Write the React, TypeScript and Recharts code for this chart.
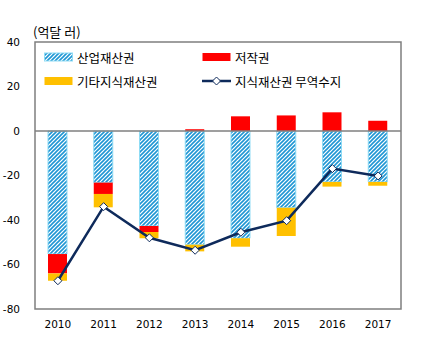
import { ComposedChart, Bar, Line, XAxis, YAxis, ReferenceLine, ReferenceArea } from 'recharts'

const years = ['2010', '2011', '2012', '2013', '2014', '2015', '2016', '2017']
const industrial = [-55.3, -23.2, -42.7, -51.1, -48.2, -34.5, -22.9, -22.9]
const copyright = [-8.7, -5.1, -2.7, 0.8, 6.6, 7.0, 8.4, 4.6]
const otherIp = [-3.3, -6.0, -2.8, -3.0, -3.8, -12.7, -2.1, -1.7]
const balance = [-67.3, -34.0, -48.0, -53.6, -45.5, -40.3, -16.9, -20.2]
const yTicks = [40, 20, 0, -20, -40, -60, -80]

const data = years.map((year, i) => ({
  year,
  industrial: industrial[i],
  copyright: copyright[i],
  otherIp: otherIp[i],
  balance: balance[i],
}))

const NAVY = '#0e2a5b'
const RED = '#ff0000'
const YELLOW = '#ffc000'
const HATCH = '#1f96d4'
const tickStyle = { fill: '#000', fontSize: 10.5, fontFamily: 'DejaVu Sans' }
const korean = '"Noto Sans CJK KR", sans-serif'

function Diamond(props: any) {
  const { cx, cy } = props
  if (cx == null || cy == null) return null
  return <path d={`M${cx},${cy - 4} L${cx + 4},${cy} L${cx},${cy + 4} L${cx - 4},${cy} Z`} fill="#fff" stroke={NAVY} strokeWidth={1} />
}

function Swatch({ kind }: { kind: string }) {
  if (kind === 'line') {
    return (
      <svg width={29} height={10}>
        <line x1={0} y1={5} x2={29} y2={5} stroke={NAVY} strokeWidth={2.5} />
        <path d="M14.5,1 L18.5,5 L14.5,9 L10.5,5 Z" fill="#fff" stroke={NAVY} strokeWidth={1} />
      </svg>
    )
  }
  return (
    <svg width={29} height={10}>
      <defs>
        <pattern id="hatchLegend" patternUnits="userSpaceOnUse" width={4} height={4}>
          <rect width={4} height={4} fill="#fff" />
          <path d="M-1,1 L1,-1 M0,4 L4,0 M3,5 L5,3" stroke={HATCH} strokeWidth={1.6} />
        </pattern>
      </defs>
      <rect x={0.5} y={1} width={28} height={8} fill={kind === 'hatch' ? 'url(#hatchLegend)' : kind} stroke={kind === 'hatch' ? '#8fdcf5' : 'none'} />
    </svg>
  )
}

const legendItems = [
  { label: '산업재산권', kind: 'hatch' },
  { label: '저작권', kind: RED },
  { label: '기타지식재산권', kind: YELLOW },
  { label: '지식재산권 무역수지', kind: 'line' },
]

function ChartLegend() {
  return (
    <div style={{ position: 'absolute', left: 44, top: 45, display: 'flex', flexWrap: 'wrap', width: 340, fontFamily: korean, fontSize: 12.5, color: '#000' }}>
      {legendItems.map((item) => (
        <div key={item.label} style={{ width: 158, height: 24, display: 'flex', alignItems: 'center', gap: 4 }}>
          <Swatch kind={item.kind} />
          <span>{item.label}</span>
        </div>
      ))}
    </div>
  )
}

export default function App() {
  return (
    <div style={{ position: 'absolute', left: 0, top: 0, width: 426, height: 351, background: '#fff' }}>
      <div style={{ position: 'absolute', left: 33, top: 22, fontFamily: korean, fontSize: 13, color: '#000' }}>(억달 러)</div>
      <ComposedChart
        width={426}
        height={351}
        data={data}
        stackOffset="sign"
        margin={{ top: 42, right: 25, left: 0, bottom: 12 }}
        barSize={19}
      >
        <defs>
          <pattern id="hatch" patternUnits="userSpaceOnUse" width={4} height={4}>
            <rect width={4} height={4} fill="#fff" />
            <path d="M-1,1 L1,-1 M0,4 L4,0 M3,5 L5,3" stroke={HATCH} strokeWidth={1.6} />
          </pattern>
        </defs>
        <XAxis dataKey="year" axisLine={false} tickLine={false} tick={tickStyle} tickMargin={6} height={30} />
        <YAxis
          domain={[-80, 40]}
          ticks={yTicks}
          axisLine={false}
          tickLine={false}
          tick={tickStyle}
          tickMargin={9}
          width={35}
          interval={0}
        />
        <ReferenceArea y1={-80} y2={40} fill="none" stroke="#7f7f7f" strokeWidth={1.5} />
        <Bar dataKey="industrial" stackId="a" fill="url(#hatch)" stroke="#8fdcf5" strokeWidth={1} isAnimationActive={false} />
        <Bar dataKey="copyright" stackId="a" fill={RED} isAnimationActive={false} />
        <Bar dataKey="otherIp" stackId="a" fill={YELLOW} isAnimationActive={false} />
        <ReferenceLine y={0} stroke="#7f7f7f" strokeWidth={1.5} />
        <Line
          dataKey="balance"
          stroke={NAVY}
          strokeWidth={2.5}
          dot={<Diamond />}
          activeDot={false}
          isAnimationActive={false}
        />
      </ComposedChart>
      <ChartLegend />
    </div>
  )
}
